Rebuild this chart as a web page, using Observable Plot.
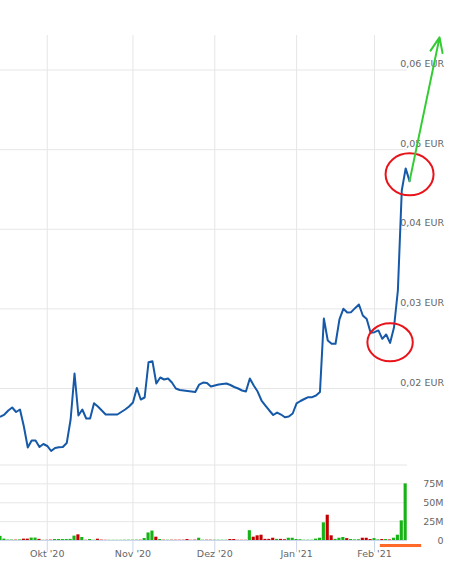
<!DOCTYPE html>
<html>
<head>
<meta charset="utf-8">
<script src="https://cdn.jsdelivr.net/npm/d3@7"></script>
<script src="https://cdn.jsdelivr.net/npm/@observablehq/plot@0.6"></script>
<style>
  html, body { margin: 0; padding: 0; background: #fff; }
  #chart { width: 467px; height: 575px; overflow: hidden; }
  #chart svg { display: block; }
</style>
</head>
<body>
<div id="chart"></div>
<script>
// ---- trading days (day numbers per month) ----
const sep20 = [15,16,17,18,21,22,23,24,25,28,29,30];
const oct20 = [1,2,5,6,7,8,9,12,13,14,15,16,19,20,21,22,23,26,27,28,29,30];
const nov20 = [2,3,4,5,6,9,10,11,12,13,16,17,18,19,20,23,24,25,26,27,30];
const dec20 = [1,2,3,4,7,8,9,10,11,14,15,16,17,18,21,22,23,28,29,30,31];
const jan21 = [4,5,6,7,8,11,12,13,14,15,18,19,20,21,22,25,26,27,28,29];
const feb21 = [1,2,3,4,5,8,9,10,11,12];

// ---- closing prices (EUR) ----
const prices = [
  0.01648,0.01673,0.01724,0.01761,0.01705,0.01736,0.01523,0.01259,0.01347,0.01347,
  0.01265,0.01303,0.01278,0.01215,0.01253,0.01263,0.01265,0.01315,0.01611,0.02188,
  0.01661,0.01736,0.01623,0.01623,0.01815,0.01774,0.01724,0.01673,0.01673,0.01673,
  0.01673,0.01705,0.01736,0.01774,0.01824,0.02006,0.01862,0.01887,0.02330,0.02343,
  0.02063,0.02138,0.02113,0.02126,0.02075,0.02000,0.01981,0.01975,0.01969,0.01962,
  0.01956,0.02050,0.02075,0.02069,0.02025,0.02038,0.02050,0.02057,0.02063,0.02044,
  0.02019,0.02000,0.01975,0.01962,0.02126,0.02038,0.01962,0.01849,0.01786,0.01724,
  0.01667,0.01698,0.01673,0.01639,0.01648,0.01686,0.01812,0.01843,0.01868,0.01891,
  0.01891,0.01912,0.01956,0.02879,0.02603,0.02562,0.02562,0.02867,0.03001,0.02955,
  0.02959,0.03009,0.03055,0.02917,0.02873,0.02700,0.02707,0.02729,0.02624,0.02678,
  0.02572,0.02766,0.03231,0.04487,0.04764,0.04604
];

// ---- volumes (millions) ----
const volumesM = [
  5.5,1.8,0.6,0.6,0.5,0.8,1.8,1.8,3.2,3.2,
  1.5,0.3,0.3,0.5,1.3,1.3,1.3,1.3,1.5,5.8,
  7.5,4.0,0.3,1.3,0.3,1.7,0.5,0.3,0.3,0.3,
  0.3,0.3,0.4,0.4,0.4,0.5,0.4,2.6,10.0,12.5,
  4.4,1.3,0.4,0.4,0.4,0.4,0.4,0.4,1.3,0.3,
  0.5,3.0,0.4,0.4,0.4,0.4,0.4,0.4,0.4,1.3,
  1.3,0.3,0.3,0.3,13.0,4.4,6.2,7.0,1.5,1.5,
  3.0,1.5,1.5,1.0,3.0,3.0,1.3,1.0,0.4,0.4,
  0.4,1.8,3.0,23.4,33.5,6.2,1.5,3.0,4.0,2.5,
  1.3,0.8,1.0,3.0,3.0,1.3,2.5,0.8,1.3,1.3,
  0.8,3.0,7.0,26.0,75.0,0
];

// ---- axes ----
const monthKeys = ["2020-10","2020-11","2020-12","2021-01","2021-02"];
const monthLabels = ["Okt '20","Nov '20","Dez '20","Jan '21","Feb '21"];
const priceTicks = [0.02,0.03,0.04,0.05,0.06];
const volumeTicks = [0,25,50,75];
const volumeGrid = [25,50,75,100];

// ---- annotations (data units) ----
const circleTop = {date: "2021-02-12", price: 0.0469};
const circleLow = {date: "2021-02-05", price: 0.0258};
const arrowTarget = {daysAhead: 7.7, price: 0.0641};
const highlight = {from: 97.5, to: 108.1, top: -5.3, bottom: -9.3};

// ---- build table ----
const months = [["2020-09", sep20],["2020-10", oct20],["2020-11", nov20],["2020-12", dec20],["2021-01", jan21],["2021-02", feb21]];
const dates = months.flatMap(([m, days]) => days.map(d => `${m}-${String(d).padStart(2, "0")}`));
const data = dates.map((date, i) => ({
  i, date, price: prices[i], vol: volumesM[i],
  up: i === 0 || prices[i] >= prices[i - 1]
}));
const idx = (date) => dates.indexOf(date);
const tickIdx = monthKeys.map(k => dates.findIndex(d => d.startsWith(k)));
const last = data[data.length - 1];

function ellipse(rx, ry) {
  const k = 0.5523;
  return {
    draw(c) {
      c.moveTo(rx, 0);
      c.bezierCurveTo(rx, k * ry, k * rx, ry, 0, ry);
      c.bezierCurveTo(-k * rx, ry, -rx, k * ry, -rx, 0);
      c.bezierCurveTo(-rx, -k * ry, -k * rx, -ry, 0, -ry);
      c.bezierCurveTo(k * rx, -ry, rx, -k * ry, rx, 0);
      c.closePath();
    }
  };
}

const xDomain = [0, 104.47];
const font = {fontFamily: "'DejaVu Sans', sans-serif", fontSize: "9.5px", background: "#fff", overflow: "visible"};
const gridColor = "#e6e6e6";
const labelColor = "#666";

const main = Plot.plot({
  width: 467, height: 462,
  marginTop: 35, marginBottom: 0, marginLeft: 0, marginRight: 60,
  x: {domain: xDomain, axis: null},
  y: {domain: [0.010706, 0.064333], axis: null},
  style: font,
  marks: [
    Plot.ruleX(tickIdx, {stroke: gridColor}),
    Plot.ruleY(priceTicks, {stroke: gridColor}),
    Plot.text(priceTicks, {
      y: d => d, frameAnchor: "right", textAnchor: "end", dx: 36.5, dy: -6,
      text: d => d.toFixed(2).replace(".", ",") + " EUR", fill: labelColor
    }),
    Plot.line(data, {x: "i", y: "price", stroke: "#1559a8", strokeWidth: 2, strokeLinejoin: "round"}),
    Plot.dot([circleTop], {x: d => idx(d.date), y: "price", symbol: ellipse(24, 21), stroke: "#e8141a", strokeWidth: 2, fill: "none"}),
    Plot.dot([circleLow], {x: d => idx(d.date), y: "price", symbol: ellipse(22.7, 19), stroke: "#e8141a", strokeWidth: 2, fill: "none"}),
    Plot.arrow([arrowTarget], {
      x1: () => last.i, y1: () => last.price,
      x2: d => last.i + d.daysAhead, y2: "price",
      stroke: "#33cc33", strokeWidth: 2, headLength: 12, headAngle: 45
    })
  ]
});

const green = "#16b216", red = "#c30000";
const vol = Plot.plot({
  width: 467, height: 113,
  marginTop: 2.5, marginBottom: 35, marginLeft: 0, marginRight: 60,
  x: {domain: xDomain, axis: null},
  y: {domain: [0, 100], axis: null},
  style: font,
  marks: [
    Plot.ruleX(tickIdx, {stroke: gridColor, insetTop: -2.5}),
    Plot.ruleY(volumeGrid, {stroke: gridColor}),
    Plot.rect(data, {x1: d => d.i - 0.4, x2: d => d.i + 0.4, y1: 0, y2: "vol", fill: d => d.up ? green : red}),
    Plot.ruleY([0], {stroke: "#ccd6eb"}),
    Plot.ruleX(tickIdx, {y1: 0, y2: 0, insetBottom: -12, stroke: "#ccd6eb"}),
    Plot.text(volumeTicks, {
      y: d => d, frameAnchor: "right", textAnchor: "end", dx: 36,
      text: d => d ? d + "M" : "0", fill: labelColor
    }),
    Plot.text(tickIdx, {x: d => d, frameAnchor: "bottom", dy: 16.7, text: (d, i) => monthLabels[i], fill: labelColor}),
    Plot.rect([highlight], {x1: "from", x2: "to", y1: "top", y2: "bottom", fill: "#ff6a28"})
  ]
});

const el = document.getElementById("chart");
el.appendChild(main);
el.appendChild(vol);
</script>
</body>
</html>
